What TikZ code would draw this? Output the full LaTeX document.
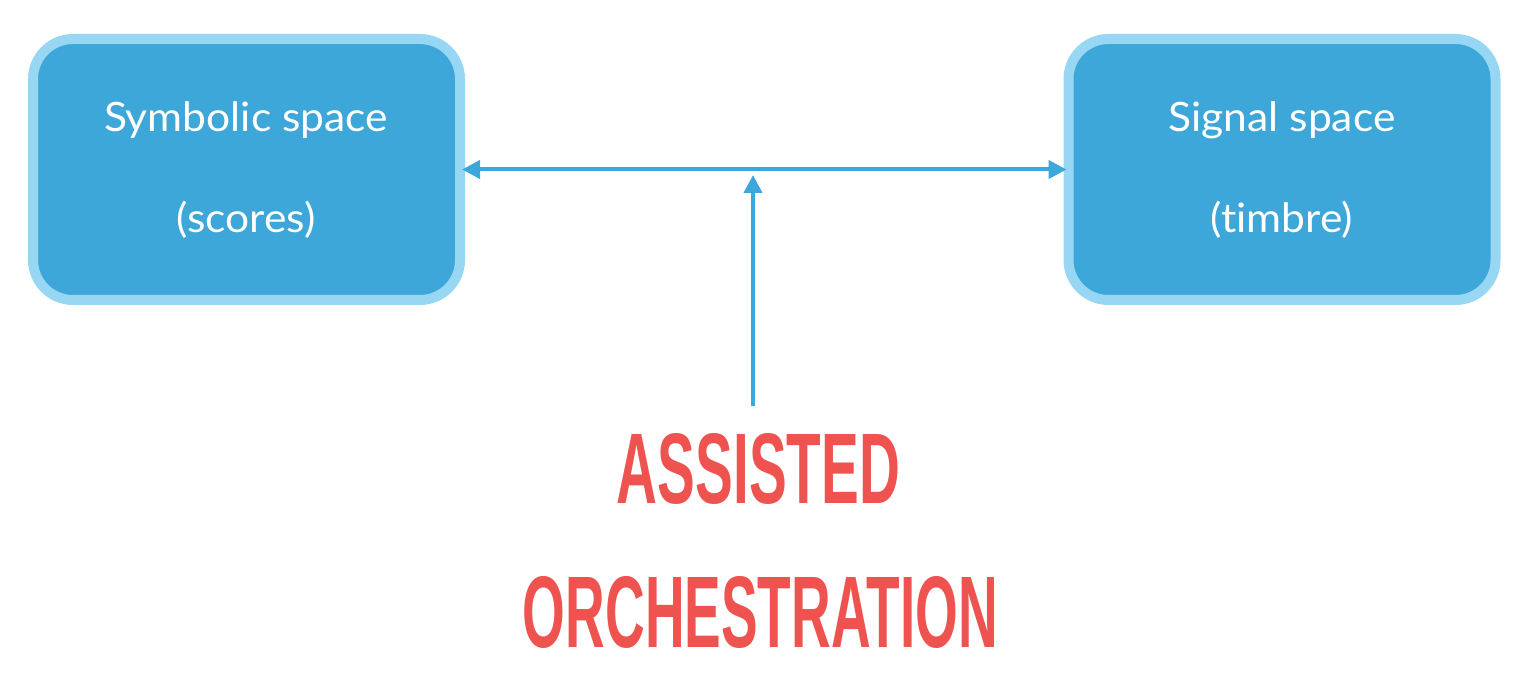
\documentclass[tikz,border=0pt]{standalone}
\usepackage{fontspec}
\setmainfont[FakeStretch=1.05, Ligatures={NoCommon,NoDiscretionary}]{Lato}
\newfontfamily\redfont{Liberation Sans}
\usetikzlibrary{arrows.meta}
\definecolor{boxfill}{HTML}{3DA7D9}
\definecolor{boxline}{HTML}{98D7F3}
\definecolor{arrowc}{HTML}{3DA7D9}
\definecolor{redtxt}{HTML}{EE5350}
\tikzset{
  spacebox/.style={draw=boxline, fill=boxfill, line width=10pt, rounded corners=40pt,
    minimum width=427pt, minimum height=261pt, inner sep=0pt},
  boxtext/.style={text=white, font=\fontsize{40.5}{48}\selectfont, anchor=base, inner sep=0pt},
  redlabel/.style={text=redtxt, anchor=base, inner sep=0pt},
  conn/.style={draw=arrowc, line width=4pt, -{Triangle[length=18pt,width=18pt]}},
  biconn/.style={draw=arrowc, line width=4pt, {Triangle[length=18pt,width=18pt]}-{Triangle[length=18pt,width=18pt]}}
}
\begin{document}
\begin{tikzpicture}[x=1pt,y=-1pt]
\path[use as bounding box] (0,0) rectangle (1534,692);
\node[spacebox] (lb) at (246.5,169.5) {};
\node[spacebox] (rb) at (1282,169.5) {};
\node[boxtext] (lt1) at (246,132) {Symbolic space};
\node[boxtext] (lt2) at (246,233) {(scores)};
\node[boxtext] (rt1) at (1282,132) {Signal space};
\node[boxtext] (rt2) at (1282,233) {(timbre)};
\draw[biconn, shorten <=-3pt, shorten >=-3pt] (lb.east) -- (rb.west);
\coordinate (vb) at (753,406);
\coordinate (vt) at (753,175);
\draw[conn] (vb) -- (vt);
\node[redlabel] (as) at (758.5,503) {\resizebox{283pt}{70pt}{\redfont\bfseries ASSISTED}};
\node[redlabel] (or) at (760.5,647) {\resizebox{475pt}{71pt}{\redfont\bfseries ORCHESTRATION}};
\end{tikzpicture}
\end{document}
